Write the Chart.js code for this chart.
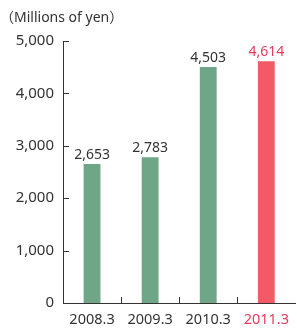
<!DOCTYPE html>
<html>
<head>
<meta charset="utf-8">
<script src="https://cdn.jsdelivr.net/npm/chart.js@4/dist/chart.umd.min.js"></script>
<style>
  html, body {margin: 0; padding: 0; background: #fff;}
  #wrap {width: 297px; height: 329px; position: relative;}
</style>
</head>
<body>
<div id="wrap"><canvas id="sales"></canvas></div>
<script>
// 数据
const years = ['2008.3', '2009.3', '2010.3', '2011.3'];
const sales = [2653, 2783, 4503, 4614];
const yTicks = [0, 1000, 2000, 3000, 4000, 5000];
const unitLabel = '（Millions of yen）';

const GREEN = '#6fa687';
const RED = '#f25a66';
const RED_TEXT = '#e83a5c';
const INK = '#333333';
const FONT = "'Noto Sans', 'Noto Sans CJK JP', sans-serif";

const barColors = years.map((_, i) => i === years.length - 1 ? RED : GREEN);

// 内向きの目盛りと数値ラベル
const decorations = {
  id: 'decorations',
  afterDraw(chart) {
    const ctx = chart.ctx;
    const x = chart.scales.x, y = chart.scales.y;
    const area = chart.chartArea;
    ctx.save();
    ctx.strokeStyle = INK;
    ctx.lineWidth = 1;
    // y ticks
    y.ticks.forEach((t, i) => {
      if (t.value === 0) return;
      const py = Math.round(y.getPixelForTick(i)) + 0.5;
      ctx.beginPath();
      ctx.moveTo(area.left, py);
      ctx.lineTo(area.left + 6, py);
      ctx.stroke();
    });
    // x ticks between categories
    for (let i = 1; i < years.length; i++) {
      const px = Math.round((x.getPixelForTick(i - 1) + x.getPixelForTick(i)) / 2) + 0.5;
      ctx.beginPath();
      ctx.moveTo(px, area.bottom);
      ctx.lineTo(px, area.bottom - 6);
      ctx.stroke();
    }
    // value labels
    ctx.font = '14px ' + FONT;
    ctx.textAlign = 'center';
    ctx.textBaseline = 'bottom';
    chart.getDatasetMeta(0).data.forEach((bar, i) => {
      ctx.fillStyle = i === years.length - 1 ? RED_TEXT : INK;
      ctx.fillText(sales[i].toLocaleString('en-US'), bar.x, bar.y - 2);
    });
    // unit
    ctx.font = '14px ' + FONT;
    ctx.textAlign = 'left';
    ctx.textBaseline = 'middle';
    ctx.fillStyle = INK;
    ctx.fillText(unitLabel, 0, 18);
    ctx.restore();
  }
};

new Chart(document.getElementById('sales'), {
  type: 'bar',
  data: {
    labels: years,
    datasets: [{data: sales, backgroundColor: barColors, borderWidth: 0, barPercentage: 0.29, categoryPercentage: 1}]
  },
  options: {
    responsive: true,
    maintainAspectRatio: false,
    animation: false,
    layout: {padding: {top: 41, right: 0, left: 0, bottom: 0}},
    plugins: {legend: {display: false}, tooltip: {enabled: false}},
    scales: {
      x: {
        grid: {display: false, drawTicks: false},
        border: {display: true, color: INK, width: 1},
        ticks: {
          padding: 8,
          maxRotation: 0,
          autoSkip: false,
          font: {family: FONT, size: 14.5},
          color: ctx => ctx.index === years.length - 1 ? RED_TEXT : INK
        },
        afterFit: s => { s.height = 26; }
      },
      y: {
        min: 0, max: 5000,
        afterBuildTicks: s => { s.ticks = yTicks.map(v => ({value: v})); },
        grid: {display: false, drawTicks: false},
        border: {display: true, color: INK, width: 1},
        ticks: {
          padding: 9,
          font: {family: FONT, size: 15},
          color: INK,
          callback: v => v.toLocaleString('en-US')
        },
        afterFit: s => { s.width = 63; }
      }
    }
  },
  plugins: [decorations]
});
</script>
</body>
</html>
